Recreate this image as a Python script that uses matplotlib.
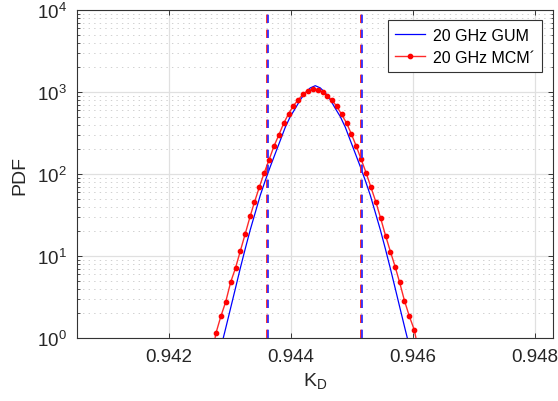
import numpy as np
import matplotlib
matplotlib.use('Agg')
import matplotlib.pyplot as plt
from matplotlib.ticker import LogLocator, FixedLocator, FixedFormatter, NullFormatter, LogFormatterMathtext

plt.rcParams['font.family'] = ['Liberation Sans', 'DejaVu Sans']
plt.rcParams['mathtext.fontset'] = 'custom'
plt.rcParams['mathtext.rm'] = 'Liberation Sans'
plt.rcParams['mathtext.it'] = 'Liberation Sans:italic'
plt.rcParams['mathtext.bf'] = 'Liberation Sans:bold'
plt.rcParams['lines.scale_dashes'] = False

# ---- data ----
kd_gum = [0.942841, 0.942923, 0.943005, 0.943087, 0.943168, 0.943250, 0.943332,
          0.943414, 0.943496, 0.943578, 0.943660, 0.943742, 0.943824, 0.943906,
          0.943988, 0.944070, 0.944152, 0.944234, 0.944316, 0.944398, 0.944480,
          0.944562, 0.944644, 0.944726, 0.944808, 0.944890, 0.944972, 0.945054,
          0.945136, 0.945218, 0.945300, 0.945382, 0.945464, 0.945546, 0.945628,
          0.945710, 0.945791, 0.945873, 0.945955]
pdf_gum = [0.72, 1.26, 2.24, 3.98, 7.08, 12.3, 20.9, 33.9, 55.0, 83.2, 123, 178,
           257, 372, 501, 631, 804, 977, 1122, 1194, 1122, 977, 804, 631, 501,
           372, 257, 178, 123, 83.2, 55.0, 33.9, 20.9, 12.3, 7.08, 3.98, 2.24,
           1.26, 0.72]

kd_mcm = [0.94269, 0.94277, 0.94285, 0.94293, 0.94301, 0.94309, 0.94317, 0.94325,
          0.94333, 0.94340, 0.94348, 0.94356, 0.94364, 0.94372, 0.94380, 0.94388,
          0.94396, 0.94404, 0.94412, 0.94420, 0.94428, 0.94436, 0.94444, 0.94452,
          0.94459, 0.94467, 0.94475, 0.94483, 0.94491, 0.94499, 0.94507, 0.94515,
          0.94523, 0.94531, 0.94539, 0.94547, 0.94555, 0.94563, 0.94571, 0.94578,
          0.94586, 0.94594, 0.94602, 0.94610]
pdf_mcm = [0.55, 1.15, 1.84, 2.77, 4.78, 7.14, 11.6, 18.7, 30.5, 45.2, 68.9, 103,
           149, 218, 299, 415, 543, 681, 805, 946, 1037, 1089, 1067, 991, 905,
           798, 669, 532, 419, 307, 218, 151, 104, 68.9, 45.9, 28.8, 17.7, 11.3,
           7.28, 4.78, 2.85, 1.84, 1.26, 0.65]

gum_interval = [0.94362, 0.94516]
mcm_interval = [0.94360, 0.94514]

xticks = [0.942, 0.944, 0.946, 0.948]
xtick_labels = ['0.942', '0.944', '0.946', '0.948']
legend_labels = ['20 GHz GUM', '20 GHz MCM\u00b4']

# ---- figure ----
fig = plt.figure(figsize=(5.58, 4.02), dpi=100)
ax = fig.add_axes([0.1375, 0.1567, 0.853, 0.8159])

ax.plot(kd_gum, pdf_gum, color='#0000ff', lw=0.9, label=legend_labels[0], zorder=3)
ax.plot(kd_mcm, pdf_mcm, color='#ff2a2a', lw=1.0, marker='o', ms=3.1,
        mfc='#ff0000', mec='#ff0000', label=legend_labels[1], zorder=4)

for xv in mcm_interval:
    ax.axvline(xv, color='#ff2020', lw=1.3, dashes=(6, 4.8), zorder=5)
for xv in gum_interval:
    ax.axvline(xv, color='#3030ff', lw=1.3, dashes=(6, 4.8), zorder=5)

ax.set_yscale('log')
ax.set_ylim(1, 1e4)
ax.set_xlim(0.940487, 0.948290)

ax.xaxis.set_major_locator(FixedLocator(xticks))
ax.xaxis.set_major_formatter(FixedFormatter(xtick_labels))
ax.yaxis.set_major_locator(LogLocator(base=10, numticks=10))
ax.yaxis.set_minor_locator(LogLocator(base=10, subs=np.arange(2, 10), numticks=20))
ax.yaxis.set_major_formatter(LogFormatterMathtext())
ax.yaxis.set_minor_formatter(NullFormatter())

ax.set_axisbelow(True)
ax.grid(True, which='major', color='#e0e0e0', lw=0.9, ls='-')
ax.grid(True, which='minor', axis='y', color='#d0d0d0', lw=0.7, ls=(0, (1, 3)))

for s in ax.spines.values():
    s.set_color('#333333')
    s.set_linewidth(0.8)

ax.tick_params(which='both', direction='in', top=True, right=True,
               colors='#333333', labelcolor='#262626', labelsize=13.5)
ax.tick_params(which='major', length=3.6, width=0.7, pad=7)
ax.tick_params(which='minor', length=1.8, width=0.6)

ax.set_xlabel(r'K$_\mathrm{D}$', fontsize=14, color='#262626', labelpad=4)
ax.set_ylabel('PDF', fontsize=14, color='#262626', labelpad=6)

leg = ax.legend(loc='upper right', fontsize=11.5, frameon=True, fancybox=False,
                framealpha=1, edgecolor='#333333', handlelength=1.9,
                borderaxespad=0.65, labelspacing=0.45, borderpad=0.45,
                handletextpad=0.5)
leg.get_frame().set_linewidth(0.8)

fig.savefig('out.png', dpi=100)
